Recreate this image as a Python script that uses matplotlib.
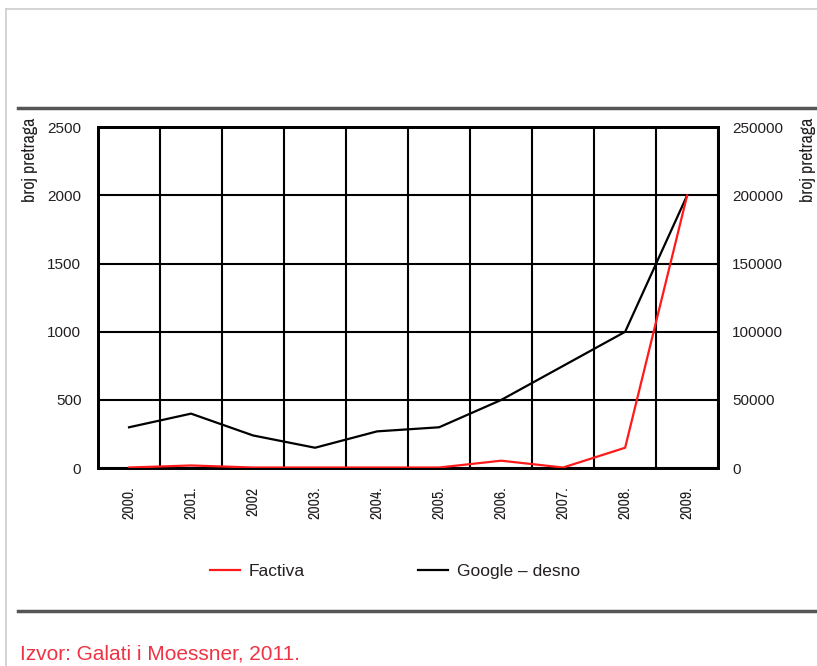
import matplotlib.pyplot as plt
import numpy as np
from matplotlib.lines import Line2D

years = ["2000.", "2001.", "2002", "2003.", "2004.", "2005.", "2006.", "2007.", "2008.", "2009."]
factiva = [5, 20, 5, 5, 5, 5, 55, 5, 150, 2000]
google = [30000, 40000, 24000, 15000, 27000, 30000, 50000, 75000, 100000, 200000]
left_ticks = [0, 500, 1000, 1500, 2000, 2500]
right_ticks = [0, 50000, 100000, 150000, 200000, 250000]

plt.rcParams["font.family"] = ["Liberation Sans", "DejaVu Sans"]
narrow = ["Archivo Narrow", "Liberation Sans", "DejaVu Sans"]
txt = "#231f20"

fig = plt.figure(figsize=(8.17, 6.66), dpi=100)
ax = fig.add_axes([0.120, 0.297, 0.759, 0.512])
ax2 = ax.twinx()

x = np.arange(len(years)) + 0.5
ax2.plot(x, google, color="black", lw=1.6, zorder=3)
ax.plot(x, factiva, color="#ff1a1a", lw=1.6, zorder=4)
ax.set_zorder(ax2.get_zorder() + 1)
ax.patch.set_visible(False)

ax.set_xlim(0, len(years))
ax.set_ylim(0, 2500)
ax2.set_ylim(0, 250000)
ax.set_xticks(x)
ax.set_xticklabels(years, rotation=90, fontsize=11.5, color=txt, family=narrow)
ax.set_xticks(np.arange(len(years) + 1), minor=True)
ax.set_yticks(left_ticks)
ax.set_yticklabels([str(v) for v in left_ticks], fontsize=11, color=txt)
ax2.set_yticks(right_ticks)
ax2.set_yticklabels([str(v) for v in right_ticks], fontsize=11, color=txt)

ax.grid(axis="y", which="major", color="black", lw=1.5)
ax.grid(axis="x", which="minor", color="black", lw=1.5)
ax.tick_params(axis="both", which="both", length=0)
ax.tick_params(axis="x", pad=13)
ax.tick_params(axis="y", pad=12)
ax2.tick_params(axis="y", length=0, pad=10)
for a in (ax, ax2):
    for s in a.spines.values():
        s.set_linewidth(2)
        s.set_color("black")

fig.text(0.037, 0.823, "broj pretraga", rotation=90, fontsize=13, color=txt, ha="center",
         va="top", family=narrow)
fig.text(0.989, 0.823, "broj pretraga", rotation=90, fontsize=13, color=txt, ha="center",
         va="top", family=narrow)

handles = [Line2D([], [], color="#ff1a1a", lw=1.6), Line2D([], [], color="black", lw=1.6)]
fig.legend(handles, ["Factiva", "Google \u2013 desno"], loc="center", bbox_to_anchor=(0.4835, 0.142),
           ncol=2, frameon=False, fontsize=12.5, handlelength=1.73, handletextpad=0.5,
           columnspacing=6.5, labelcolor=txt)

# frame and rules
fig.add_artist(Line2D([0.007, 0.007], [0, 0.987], color="#cccccc", lw=1.2))
fig.add_artist(Line2D([0.007, 1], [0.987, 0.987], color="#cccccc", lw=1.2))
fig.add_artist(Line2D([0.022, 1], [0.838, 0.838], color="#555555", lw=2.5))
fig.add_artist(Line2D([0.022, 1], [0.083, 0.083], color="#555555", lw=2.5))

fig.text(0.024, 0.01, "Izvor: Galati i Moessner, 2011.", fontsize=15, color="#ee3344")

fig.savefig("out.png", dpi=100)
